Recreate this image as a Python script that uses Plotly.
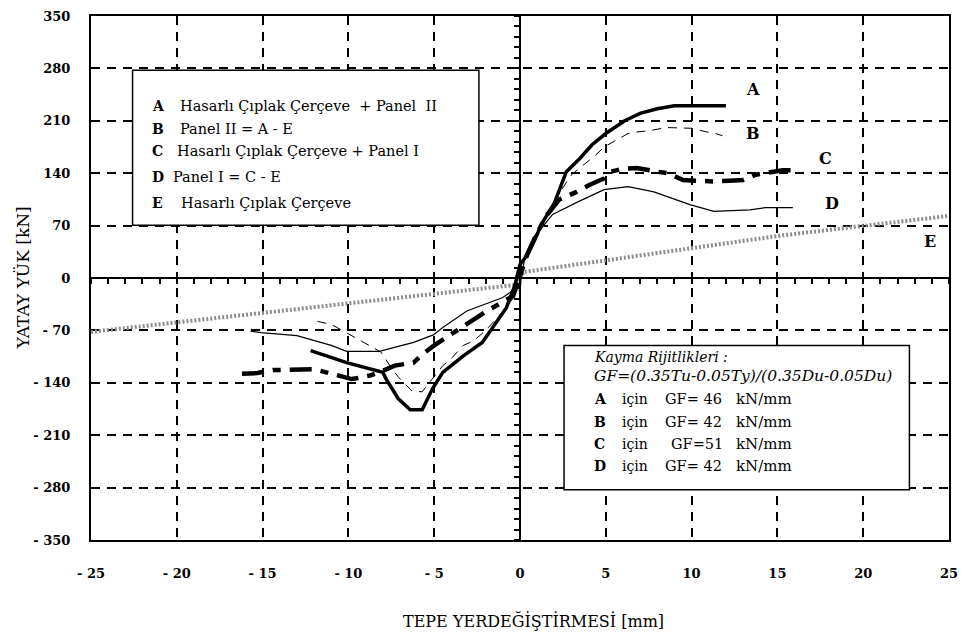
import plotly.graph_objects as go

# Hysteresis envelope curves: top displacement (mm) vs lateral load (kN)
a_x = [-12.2, -10.1, -8.0, -7.8, -7.1, -6.4, -5.7, -5.1, -4.5, -3.3, -2.2, -1.4, -0.8, -0.3,
       0.0, 0.4, 1.0, 1.2, 2.0, 2.7, 3.5, 4.2, 5.0, 6.1, 7.0, 8.0, 9.0, 12.0]
a_y = [-97, -113, -126, -135, -161, -176, -176, -148, -126, -104, -86, -60, -40, -10,
       18, 30, 58, 70, 100, 142, 160, 178, 193, 210, 220, 226, 230, 230]

b_x = [-11.8, -11.0, -10.2, -9.3, -8.1, -7.5, -7.1, -6.3, -5.7, -4.5, -4.1, -3.3, -2.7, -2.0,
       -1.0, 0.0, 0.3, 0.8, 1.5, 2.2, 3.0, 3.7, 4.4, 4.9, 5.6, 6.3, 6.8, 7.6, 8.5, 9.3,
       10.0, 10.9, 11.4, 11.8]
b_y = [-58, -62, -72, -84, -99, -120, -132, -151, -152, -117, -110, -90, -84, -70,
       -45, -15, 25, 50, 80, 110, 138, 151, 164, 175, 184, 193, 195, 197, 201, 201,
       200, 195, 193, 190]

c_x = [-16.2, -15.3, -14.4, -13.2, -12.0, -11.3, -10.4, -9.8, -9.3, -8.7, -8.0, -7.3, -6.2,
       -5.7, -5.0, -3.6, -3.0, -2.0, -0.4, 0.0, 0.4, 1.0, 1.6, 2.3, 3.3, 4.1, 4.9, 5.3, 6.0,
       6.8, 7.4, 8.0, 8.6, 9.5, 10.2, 10.8, 11.3, 12.2, 13.0, 13.75, 14.5, 15.3, 15.9]
c_y = [-128, -127, -123, -122, -122, -126, -131, -135, -133, -130, -124, -117, -113,
       -102, -90, -69, -60, -45, -24, 5, 30, 60, 85, 105, 115, 125, 133, 142, 146,
       147, 144, 142, 140, 131, 130, 129, 129, 130, 131, 138, 141, 144, 144]

d_x = [-15.7, -15.1, -13.0, -11.0, -10.1, -8.2, -6.2, -5.05, -4.5, -3.1, -1.0, 0.0, 0.3, 0.8,
       1.3, 1.9, 3.4, 4.9, 6.3, 7.8, 9.9, 11.3, 13.4, 14.3, 15.9]
d_y = [-71, -73, -77, -90, -98, -98, -86, -76, -66, -44, -26, -10, 30, 55,
       68, 85, 102, 118, 122, 115, 98, 89, 91, 94, 94]

e_x = [-25.0, -0.2, 0.2, 15.3, 25.0]
e_y = [-72, -9, 8, 57, 83]

x_ticks = [-25, -20, -15, -10, -5, 0, 5, 10, 15, 20, 25]
x_tick_text = ["- 25", "- 20", "- 15", "- 10", "- 5", "0", "5", "10", "15", "20", "25"]
y_ticks = [-350, -280, -210, -140, -70, 0, 70, 140, 210, 280, 350]
y_tick_text = ["- 350", "- 280", "- 210", "- 140", "- 70", "0", "70", "140", "210", "280", "350"]

legend_keys = ["A", "B", "C", "D", "E"]
legend_texts = ["Hasarlı Çıplak Çerçeve  + Panel  II",
                "Panel II = A - E",
                "Hasarlı Çıplak Çerçeve + Panel I",
                "Panel I = C - E",
                "Hasarlı Çıplak Çerçeve"]

gf_keys = ["A", "B", "C", "D"]
gf_values = ["GF= 46", "GF= 42", "GF=51", "GF= 42"]

SERIF = "DejaVu Serif"

# plot box in pixels
W, H = 967, 639
L, R, T, B = 91, 958, 9, 540


def px(xp):
    return (xp - L) / (R - L)


def py(yp):
    return (B - yp) / (B - T)


def note(text, x, y, size=13, anchor="left", **kw):
    fig.add_annotation(text=text, xref="paper", yref="paper", x=px(x), y=py(y),
                       xanchor=anchor, yanchor="middle", showarrow=False,
                       font=dict(family=SERIF, size=size, color="black"), **kw)


fig = go.Figure()

fig.add_trace(go.Scatter(x=e_x, y=e_y, mode="lines",
                         line=dict(color="#8c8c8c", width=4, dash="2px,2px")))
fig.add_trace(go.Scatter(x=d_x, y=d_y, mode="lines",
                         line=dict(color="black", width=1.2)))
fig.add_trace(go.Scatter(x=b_x, y=b_y, mode="lines",
                         line=dict(color="black", width=1, dash="9px,7px")))
fig.add_trace(go.Scatter(x=c_x, y=c_y, mode="lines",
                         line=dict(color="black", width=4.5, dash="22px,9px,8px,9px")))
fig.add_trace(go.Scatter(x=a_x, y=a_y, mode="lines",
                         line=dict(color="black", width=3.5)))
# carrier for the axes drawn through the origin
fig.add_trace(go.Scatter(x=[None], y=[None], xaxis="x2", yaxis="y2", showlegend=False))

grid = dict(showgrid=True, gridcolor="black", gridwidth=1.5, griddash="9px,7px",
            zeroline=False, showline=True, mirror=True, linecolor="black", linewidth=2,
            ticks="", tickfont=dict(family=SERIF, size=13, color="black", weight="bold"))

fig.update_layout(
    width=W, height=H,
    margin=dict(l=L, r=W - R, t=T, b=H - B),
    paper_bgcolor="white", plot_bgcolor="white",
    showlegend=False,
    xaxis=dict(range=[-25, 25], tickvals=x_ticks, ticktext=x_tick_text,
               ticklabelstandoff=20, **grid),
    yaxis=dict(range=[-350, 350], tickvals=y_ticks, ticktext=y_tick_text,
               ticklabelstandoff=16, **grid),
    xaxis2=dict(range=[-25, 25], overlaying="x", anchor="free", position=0.5,
                showline=True, linecolor="black", linewidth=2, showgrid=False,
                zeroline=False, ticks="outside", ticklen=5, tickwidth=1.5,
                tickcolor="black", tick0=0, dtick=1, showticklabels=False),
    yaxis2=dict(range=[-350, 350], overlaying="y", anchor="free", position=0.5,
                showline=True, linecolor="black", linewidth=2, showgrid=False,
                zeroline=False, ticks="outside", ticklen=5, tickwidth=1.5,
                tickcolor="black", tick0=0, dtick=14, showticklabels=False),
)

# axis titles
note("TEPE YERDEĞİŞTİRMESİ [mm]", 538, 622, size=16, anchor="center")
note("YATAY YÜK [kN]", 22, 274, size=17, anchor="center", textangle=-90)

# curve labels
for key, lx, ly in zip(legend_keys, [13.6, 13.6, 17.8, 18.2, 23.9], [252, 193, 160, 100, 49]):
    fig.add_annotation(text="<b>%s</b>" % key, x=lx, y=ly, showarrow=False,
                       font=dict(family=SERIF, size=16, color="black"))

# legend box
fig.add_shape(type="rect", xref="paper", yref="paper", x0=px(133), x1=px(483),
              y0=py(221), y1=py(64), line=dict(color="black", width=1.5),
              fillcolor="white", layer="above")
for i, (key, txt) in enumerate(zip(legend_keys, legend_texts)):
    yy = [100, 124, 146, 172, 199][i]
    note("<b>%s</b>" % key, 151, yy, size=14)
    note(txt, [179, 179, 176, 172, 180][i], yy, size=14.5)

# stiffness box
fig.add_shape(type="rect", xref="paper", yref="paper", x0=px(569), x1=px(918),
              y0=py(489), y1=py(343), line=dict(color="black", width=1.5),
              fillcolor="white", layer="above")
note("<i>Kayma Rijitlikleri :</i>", 597, 355, size=14)
note("<i>GF=(0.35Tu-0.05Ty)/(0.35Du-0.05Du)</i>", 597, 374, size=15.5)
for i, (key, val) in enumerate(zip(gf_keys, gf_values)):
    yy = [397, 420, 443, 465][i]
    note("<b>%s</b>" % key, 597, yy, size=14)
    note("için", 626, yy, size=14)
    note(val, 669 if val != "GF=51" else 675, yy, size=14.5)
    note("kN/mm", 741, yy, size=15)

fig.write_html("out.html")
